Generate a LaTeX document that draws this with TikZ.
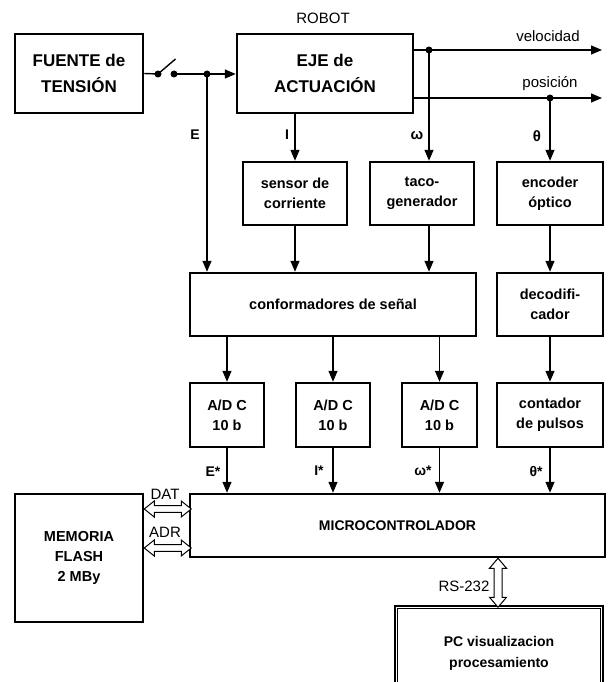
\documentclass[tikz,border=0pt]{standalone}
\usepackage{fontspec}
\setmainfont{Liberation Sans}
\usetikzlibrary{arrows.meta,calc}
\begin{document}
\begin{tikzpicture}[x=1pt,y=-1pt,
  box/.style={draw,line width=2.5pt,align=center,inner sep=0pt,font=\bfseries\fontsize{14.5}{20}\selectfont},
  bigbox/.style={box,font=\bfseries\fontsize{17}{26}\selectfont},
  conn/.style={line width=1.4pt,-{Triangle[length=11pt,width=9pt]}},
  wire/.style={line width=1.4pt},
  dot/.style={circle,fill,inner sep=0pt,minimum size=7pt},
  lbl/.style={font=\bfseries\fontsize{14}{16}\selectfont},
  plain/.style={font=\fontsize{15}{17}\selectfont},
  hollow/.style={draw,line width=1pt,fill=white}]
\useasboundingbox (0,0) rectangle (610,682);

% blocks
\node[bigbox,minimum width=128,minimum height=79] (fuente) at (79,73.5) {FUENTE de\\TENSIÓN};
\node[bigbox,minimum width=176,minimum height=79] (eje) at (325,73.5) {EJE de\\ACTUACIÓN};
\node[box,minimum width=104,minimum height=63] (sensor) at (295,193.5) {sensor de\\corriente};
\node[box,minimum width=104,minimum height=63] (taco) at (422,193.5) {taco-\\generador};
\node[box,minimum width=106,minimum height=63] (encoder) at (550,193.5) {encoder\\óptico};
\node[box,minimum width=286,minimum height=63] (conf) at (333,304.5) {conformadores de señal};
\node[box,minimum width=106,minimum height=63] (decod) at (550,304.5) {decodifi-\\cador};
\node[box,minimum width=74,minimum height=64] (adc1) at (227,415) {A/D C\\10 b};
\node[box,minimum width=74,minimum height=64] (adc2) at (333,415) {A/D C\\10 b};
\node[box,minimum width=75,minimum height=64] (adc3) at (439.5,415) {A/D C\\10 b};
\node[box,minimum width=106,minimum height=64] (cont) at (550,415) {contador\\de pulsos};
\node[box,minimum width=415,minimum height=63,font=\bfseries\fontsize{14}{18}\selectfont] (micro) at (397.5,525.5) {MICROCONTROLADOR};
\node[box,minimum width=128,minimum height=128] (mem) at (79,558) {MEMORIA\\FLASH\\2 MBy};
\node[box,minimum width=208,minimum height=94,font=\bfseries\fontsize{14}{21}\selectfont] (pc) at (499,653) {PC visualizacion\\procesamiento};
\draw[line width=0.8pt] ($(pc.north west)+(4,4)$) rectangle ($(pc.south east)+(-4,-4)$);

% text labels
\node[plain] (robot) at (323,18) {ROBOT};
\node[plain] (lvel) at (548,36) {velocidad};
\node[plain] (lpos) at (550,84) {posición};

% power path with switch
\coordinate (sw1) at (158,74);
\coordinate (sw2) at (174,74);
\coordinate (jE) at (207,74);
\draw[wire] (fuente.east) -- (sw1);
\draw[wire] (sw1) -- ++(17.5,-15);
\draw[wire] (sw2) -- (jE);
\draw[conn] (jE) -- (eje.west |- jE);
\draw[conn] (jE) -- (jE |- conf.north);
\node[dot] (d1) at (sw1) {};
\node[dot] (d2) at (sw2) {};
\node[dot] (d3) at (jE) {};

% outputs
\coordinate (velend) at (602,50);
\coordinate (posend) at (602,98);
\coordinate (jw) at (429,50);
\coordinate (jt) at (550,98);
\draw[conn] (eje.east |- velend) -- (velend);
\draw[conn] (eje.east |- posend) -- (posend);
\draw[conn] (jw) -- (jw |- taco.north);
\draw[conn] (jt) -- (encoder.north);
\node[dot] (d4) at (jw) {};
\node[dot] (d5) at (jt) {};
\draw[conn] (sensor.north |- eje.south) -- (sensor.north);

% sensors to conditioners
\draw[conn] (sensor.south) -- (sensor.south |- conf.north);
\draw[conn] (jw |- taco.south) -- (jw |- conf.north);
\draw[conn] (encoder.south) -- (decod.north);

% conditioners to converters
\draw[conn] (adc1.north |- conf.south) -- (adc1.north);
\draw[conn] (adc2.north |- conf.south) -- (adc2.north);
\draw[conn] (adc3.north |- conf.south) -- (adc3.north);
\draw[conn] (decod.south) -- (cont.north);

% converters to micro
\draw[conn] (adc1.south) -- (adc1.south |- micro.north);
\draw[conn] (adc2.south) -- (adc2.south |- micro.north);
\draw[conn] (adc3.south) -- (adc3.south |- micro.north);
\draw[conn] (cont.south) -- (cont.south |- micro.north);

% signal labels
\node[lbl] (lE) at (195,135) {E};
\node[lbl] (lI) at (287,135) {I};
\node[lbl,font=\bfseries\fontsize{15}{16}\selectfont] (lw) at (417,136) {ω};
\node[lbl,font=\bfseries\fontsize{15}{16}\selectfont] (lt) at (537,136) {θ};
\node[lbl] (lEs) at (213,472) {E*};
\node[lbl] (lIs) at (319,471) {I*};
\node[lbl] (lws) at (423,471) {ω*};
\node[lbl] (lts) at (536,471) {θ*};

% memory buses
\coordinate (yd) at (0,509);
\coordinate (ya) at (0,548);
\coordinate (datL) at (mem.east |- yd);
\coordinate (adrL) at (mem.east |- ya);
\draw[hollow] (datL) -- ++(10,-8) -- ++(0,4.7) -- ++(27,0) -- ++(0,-4.7) -- ++(10,8) -- ++(-10,8) -- ++(0,-4.7) -- ++(-27,0) -- ++(0,4.7) -- cycle;
\draw[hollow] (adrL) -- ++(10,-8) -- ++(0,4.7) -- ++(27,0) -- ++(0,-4.7) -- ++(10,8) -- ++(-10,8) -- ++(0,-4.7) -- ++(-27,0) -- ++(0,4.7) -- cycle;
\node[plain] (ldat) at (165,494) {DAT};
\node[plain] (ladr) at (165,532) {ADR};

% RS-232
\coordinate (xr) at (498,0);
\coordinate (rsT) at (micro.south -| xr);
\draw[hollow] (rsT) -- ++(8.5,10) -- ++(-4.5,0) -- ++(0,29) -- ++(4.5,0) -- ++(-8.5,10) -- ++(-8.5,-10) -- ++(4.5,0) -- ++(0,-29) -- ++(-4.5,0) -- cycle;
\node[plain] (lrs) at (464,586) {RS-232};
\end{tikzpicture}
\end{document}
